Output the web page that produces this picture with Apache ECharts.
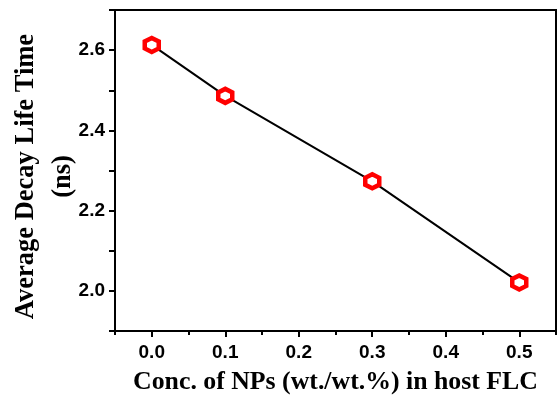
<!DOCTYPE html>
<html>
<head>
<meta charset="utf-8">
<script src="https://cdn.jsdelivr.net/npm/echarts@6/dist/echarts.min.js"></script>
<style>
html, body { margin: 0; padding: 0; background: #fff; }
#chart { width: 557px; height: 401px; }
</style>
</head>
<body>
<div id="chart"></div>
<script>
// data
var conc = [0.0, 0.1, 0.3, 0.5];
var lifeTime = [2.613, 2.486, 2.273, 2.021];
var xTicks = [0.0, 0.1, 0.2, 0.3, 0.4, 0.5];
var xMinorTicks = [-0.05, 0.05, 0.15, 0.25, 0.35, 0.45, 0.55];
var yTicks = [2.0, 2.2, 2.4, 2.6];

var chart = echarts.init(document.getElementById('chart'));

var hexagon = 'path://M0,-1 L0.866,-0.5 L0.866,0.5 L0,1 L-0.866,0.5 L-0.866,-0.5 Z';

var pts = [];
for (var i = 0; i < conc.length; i++) {
    pts.push([conc[i], lifeTime[i]]);
}

var option = {
    animation: false,
    grid: {
        left: 115,
        top: 10,
        right: 1,
        bottom: 70,
        outerBoundsMode: 'none',
        containLabel: false,
        show: true,
        borderColor: '#000',
        borderWidth: 2,
        backgroundColor: 'transparent'
    },
    xAxis: [{
        type: 'value',
        min: -0.05,
        max: 0.55,
        name: 'Conc. of NPs (wt./wt.%) in host FLC',
        nameLocation: 'middle',
        nameGap: 38,
        nameTextStyle: {
            fontFamily: 'Liberation Serif',
            fontWeight: 'bold',
            fontSize: 25.8,
            color: '#000'
        },
        splitLine: { show: false },
        axisLine: { onZero: false, lineStyle: { color: '#000', width: 2 } },
        axisTick: {
            customValues: xTicks,
            length: 6,
            lineStyle: { color: '#000', width: 2 }
        },
        axisLabel: {
            customValues: xTicks,
            margin: 12,
            fontFamily: 'Liberation Sans',
            fontWeight: 'bold',
            fontSize: 19,
            color: '#000',
            formatter: function (v) { return v.toFixed(1); }
        }
    }, {
        // short minor ticks between the labelled ones
        type: 'value',
        position: 'bottom',
        min: -0.05,
        max: 0.55,
        splitLine: { show: false },
        axisLine: { show: false, onZero: false },
        axisTick: {
            customValues: xMinorTicks,
            length: 4,
            lineStyle: { color: '#000', width: 2 }
        },
        axisLabel: { show: false }
    }],
    yAxis: {
        type: 'value',
        position: 'left',
        min: 1.9,
        max: 2.7,
        interval: 0.1,
        name: 'Average Decay Life Time\n(ns)',
        nameLocation: 'middle',
        nameRotate: 90,
        nameGap: 33,
        nameMoveOverlap: false,
        nameTextStyle: {
            fontFamily: 'Liberation Serif',
            fontWeight: 'bold',
            fontSize: 26.5,
            lineHeight: 37,
            align: 'center',
            padding: [0, 12, 0, 0],
            color: '#000'
        },
        splitLine: { show: false },
        axisLine: { onZero: false, lineStyle: { color: '#000', width: 2 } },
        axisTick: {
            length: 6,
            lineStyle: { color: '#000', width: 2 }
        },
        axisLabel: {
            customValues: yTicks,
            margin: 10,
            fontFamily: 'Liberation Sans',
            fontWeight: 'bold',
            fontSize: 19,
            color: '#000',
            formatter: function (v) { return v.toFixed(1); }
        }
    },
    series: [{
        type: 'line',
        data: pts,
        symbol: hexagon,
        symbolSize: 14,
        showAllSymbol: true,
        lineStyle: { color: '#000', width: 2 },
        itemStyle: {
            color: '#fff',
            borderColor: '#ff0000',
            borderWidth: 4.5
        },
        z: 3
    }]
};

chart.setOption(option);
</script>
</body>
</html>
